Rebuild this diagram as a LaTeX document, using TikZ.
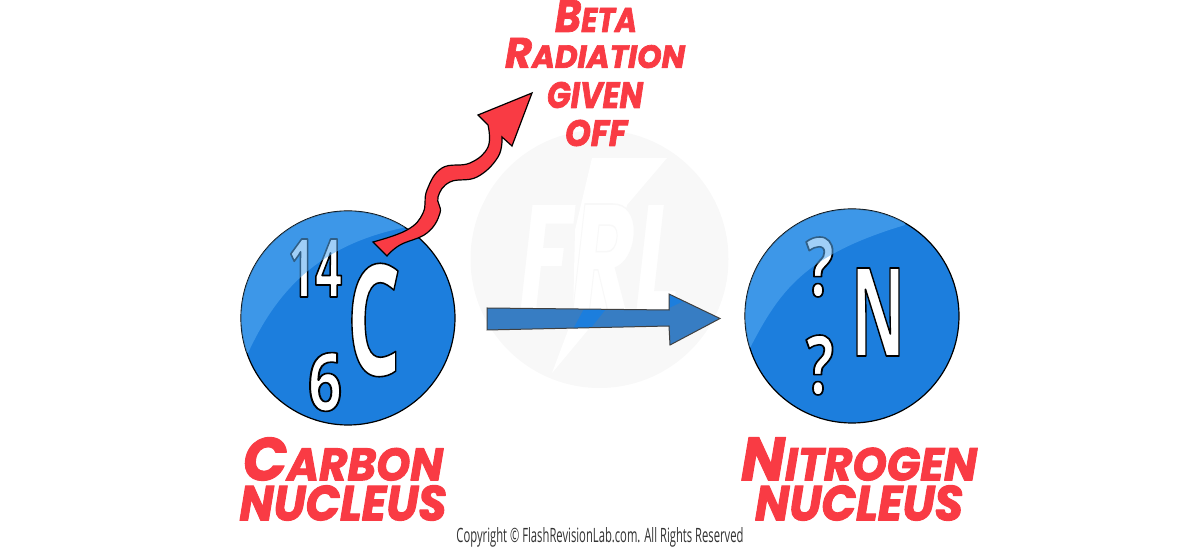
\documentclass[tikz,border=0pt]{standalone}
\usepackage{graphicx}
\usepackage{fontspec}
\setmainfont{Liberation Sans}
\newfontfamily\comicfont{Poppins}
\newfontfamily\narrowfont[FakeStretch=0.62]{Open Sans}
\newfontfamily\copyfont[FakeStretch=0.72]{Open Sans}
\usetikzlibrary{calc}
\definecolor{nucblue}{HTML}{1C7EDD}
\definecolor{glossblue}{RGB}{87,171,241}
\definecolor{labelred}{HTML}{F93B44}
\definecolor{arrowblue}{HTML}{377DC3}
\definecolor{wmgrey}{HTML}{F8F8F8}
% stroked glyph helpers
\newcommand{\outlined}[2]{\fontsize{#1}{#1}\selectfont\special{pdf:code q 2 Tr 1 j 0.8 w 0 G 1 g}#2\special{pdf:code 0 Tr Q}}
\newcommand{\heavy}[1]{\special{pdf:code q 2 Tr 1 j 1 J 0.4 w}#1\special{pdf:code 0 Tr Q}}
\newcommand{\fitbox}[3]{\resizebox{\dimexpr#1pt/2\relax}{\dimexpr#2pt/2\relax}{#3}}
\newcommand{\comic}[4]{\fitbox{#3}{#4}{\color{labelred}\heavy{\comicfont\bfseries\itshape\fontsize{24}{24}\selectfont #1\fontsize{18}{18}\selectfont #2}}}
\newcommand{\comiceven}[3]{\fitbox{#2}{#3}{\color{labelred}\heavy{\comicfont\bfseries\itshape\fontsize{18}{18}\selectfont #1}}}
\tikzset{
  x=0.5pt,y=-0.5pt,
  nucleus/.style={circle,draw=black,line width=0.6pt,fill=nucblue,minimum size=107pt,inner sep=0pt},
  symb/.style={inner sep=0pt,outer sep=0pt},
  caption/.style={inner sep=0pt,outer sep=0pt},
  wavy/.style={draw=black,line width=0.6pt,fill=labelred,line join=miter},
  bigarrow/.style={fill=arrowblue},
  gloss/.style={fill=glossblue,fill opacity=0.56},
}
\begin{document}
\begin{tikzpicture}
\useasboundingbox (0,0) rectangle (1200,549);
% watermark
\node[circle,fill=wmgrey,minimum size=129pt,inner sep=0pt] (wm) at (599.5,259) {};
\fill[white] (592,158) -- (667,158) -- (627,205) -- (607,307) -- (552,373) -- (573,317) -- (575,230) -- cycle;
\node[caption] (frl) at (600,257) {\fitbox{162}{106}{\color{white}\comicfont\bfseries\itshape\fontsize{50}{50}\selectfont\special{pdf:code q 2 Tr 0.5 w 0.973 G}FRL\special{pdf:code 0 Tr Q}}};
% carbon
\node[nucleus] (carbon) at (348,318) {};
\node[symb] (cmass) at (315,268) {\fitbox{54}{58}{\color{white}\narrowfont\bfseries\outlined{40}{14}}};
\node[symb] (cnum) at (325,382) {\fitbox{34}{58}{\color{white}\narrowfont\bfseries\outlined{40}{6}}};
\node[symb] (csym) at (374,320) {\fitbox{54}{112}{\color{white}\narrowfont\bfseries\outlined{78}{C}}};
\begin{scope}
  \clip (carbon.center) circle (107);
  \fill[gloss] (248,353) .. controls (275,295) and (315,245) .. (407,227) -- (407,190) -- (230,190) -- (230,353) -- cycle;
\end{scope}
% nitrogen
\node[nucleus] (nitrogen) at (852,316) {};
\node[symb] (nq1) at (820,267) {\fitbox{28}{59}{\color{white}\narrowfont\bfseries\outlined{42}{?}}};
\node[symb] (nq2) at (820,365) {\fitbox{28}{59}{\color{white}\narrowfont\bfseries\outlined{42}{?}}};
\node[symb] (nsym) at (878,312) {\fitbox{54}{88}{\color{white}\narrowfont\bfseries\outlined{62}{N}}};
\begin{scope}
  \clip (nitrogen.center) circle (107);
  \fill[gloss] (750,348) .. controls (780,290) and (805,255) .. (905,225) -- (905,195) -- (735,195) -- (735,348) -- cycle;
\end{scope}
% reaction arrow
\coordinate (ratail) at (487,319);
\coordinate (ratip) at (720,318.5);
\fill[bigarrow] (ratail |- 0,308) -- (669,310) -- (669,294) -- (ratip) -- (670,345) -- (669,326) -- (ratail |- 0,330) -- cycle;
\begin{scope}
  \clip (487,308) -- (669,310) -- (669,294) -- (720,318.5) -- (670,345) -- (669,326) -- (487,330) -- cycle;
  \fill[nucblue] (585,307) -- (606,309) -- (590,329) -- (572,331) -- cycle;
  \fill[nucblue] (669,294) -- (684,301) -- (669,308) -- cycle;
\end{scope}
\draw[draw=black!75,line width=0.5pt] (487,308) -- (669,310) -- (669,294) -- (720,318.5) -- (670,345) -- (669,326) -- (487,330) -- cycle;
% beta ray
\coordinate (raystart) at (380,249);
\coordinate (raytip) at (532,93);
\draw[wavy] (373,242) -- plot[smooth,tension=0.7] coordinates {(373,242) (407,230) (423,213) (427,190) (442,168) (470,163) (488,147) (488,125)} -- (478,115) -- (raytip) -- (512,146) -- (502,137) -- plot[smooth,tension=0.7] coordinates {(502,137) (498,157) (477,177) (450,182) (438,197) (440,213) (427,233) (400,245) (387,256)} -- cycle;
% labels
\node[caption] (l1) at (596,16) {\comic{B}{ETA}{82}{32}};
\node[caption] (l2) at (595,53) {\comic{R}{ADIATION}{180}{30}};
\node[caption] (l3) at (595,95) {\comiceven{GIVEN}{96}{26}};
\node[caption] (l4) at (596,133) {\comiceven{OFF}{62}{26}};
\node[caption] (l5) at (343,459) {\comic{C}{ARBON}{200}{43}};
\node[caption] (l6) at (343,503) {\comiceven{NUCLEUS}{207}{35}};
\node[caption] (l7) at (859,459) {\comic{N}{ITROGEN}{236}{43}};
\node[caption] (l8) at (859,503) {\comiceven{NUCLEUS}{208}{35}};
\node[caption] (copy) at (600,537) {\fitbox{287}{15}{\color{black!80}\copyfont\fontsize{8}{8}\selectfont Copyright © FlashRevisionLab.com. All Rights Reserved}};
\end{tikzpicture}
\end{document}
